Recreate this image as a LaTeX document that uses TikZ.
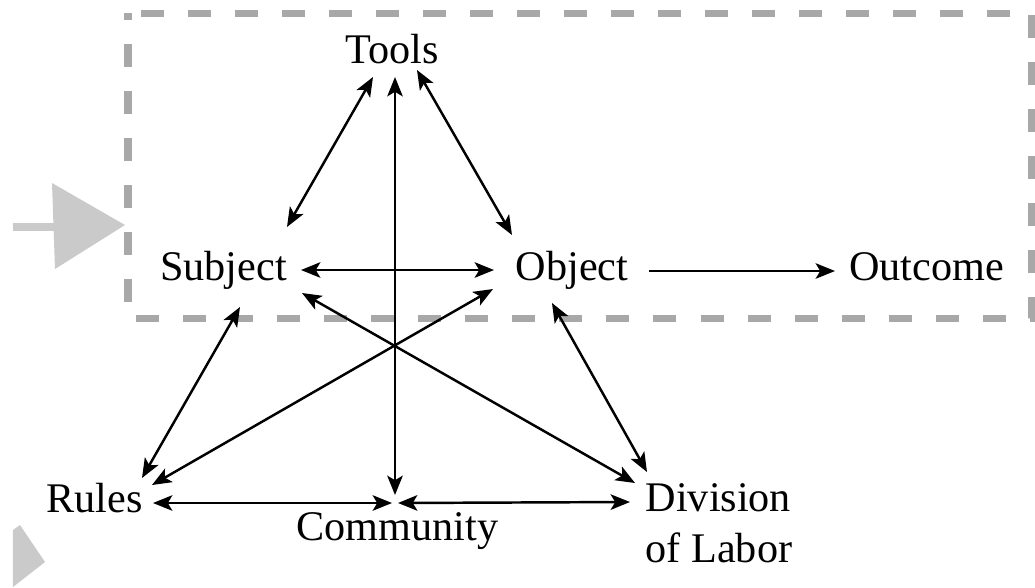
\documentclass[tikz,border=0pt]{standalone}
\usepackage{fontspec}
\setmainfont{Liberation Serif}
\usepackage{tikz}
\usetikzlibrary{positioning, calc, arrows.meta}
\definecolor{boxgray}{RGB}{168,168,168}
\definecolor{shadegray}{RGB}{202,202,202}
\tikzset{
    lbl/.style={inner sep=0, anchor=base, font=\fontsize{12}{14.5}\selectfont},
    rel/.style={line width=0.7pt, <->},
    flow/.style={line width=0.7pt, ->},
    frame/.style={draw=boxgray, line width=0.07cm, dash pattern=on 0.23cm off 0.24cm, dash phase=0.16cm}
}

\begin{document}
\begin{tikzpicture}[x=0.01cm, y=-0.01cm, >={Stealth[length=5.5pt,width=4.4pt,inset=1.3pt]}]
                \useasboundingbox (0,0) rectangle (1035,587);
                % grey marks and frame
                \draw[shadegray, line width=0.08cm] (13,227) -- (56,227);
                \fill[shadegray] (52,183) -- (125,225) -- (55,269) -- cycle;
                \fill[shadegray] (13,530) -- (20,525) -- (45,562) -- (13,587) -- cycle;
                \draw[frame] (128,13) rectangle (1032,318);
                % labels
                \node[lbl] (tools) at (392.5,63) {Tools};
                \node[lbl] (subject) at (223.5,280) {Subject};
                \node[lbl] (object) at (572,280) {Object};
                \node[lbl] (outcome) at (926.5,280) {Outcome};
                \node[lbl] (rules) at (94.5,512) {Rules};
                \node[lbl] (community) at (397.5,540) {Community};
                \node[lbl, align=left, anchor=base west] (division) at (645,562) {Division\\of Labor};
                % arrows
                \draw[rel] ([shift={(-19.5,14)}]tools.base) -- ([shift={(63.5,-53)}]subject.base);
                \draw[rel] ([shift={(2.5,14)}]tools.base) -- ([shift={(-2.5,-45)}]community.base);
                \draw[rel] ([shift={(24.5,7)}]tools.base) -- ([shift={(-60,-45)}]object.base);
                \draw[rel] ([shift={(77.5,-10)}]subject.base) -- ([shift={(-78,-10)}]object.base);
                \draw[flow] ([shift={(77,-9)}]object.base) -- ([shift={(-91.5,-9)}]outcome.base);
                \draw[rel] ([shift={(16.5,27)}]subject.base) -- ([shift={(47.5,-34)}]rules.base);
                \draw[rel] ([shift={(78.5,13)}]subject.base) -- ([shift={(-10,-79)}]division.base west);
                \draw[rel] ([shift={(-79,9)}]object.base) -- ([shift={(57.5,-27)}]rules.base);
                \draw[rel] ([shift={(-20,23)}]object.base) -- ([shift={(2,-90)}]division.base west);
                \draw[rel] ([shift={(58.5,-9)}]rules.base) -- ([shift={(-5.5,-37)}]community.base);
                \draw[rel] ([shift={(0.5,-37)}]community.base) -- ([shift={(-15,-60)}]division.base west);
            \end{tikzpicture}
\end{document}
